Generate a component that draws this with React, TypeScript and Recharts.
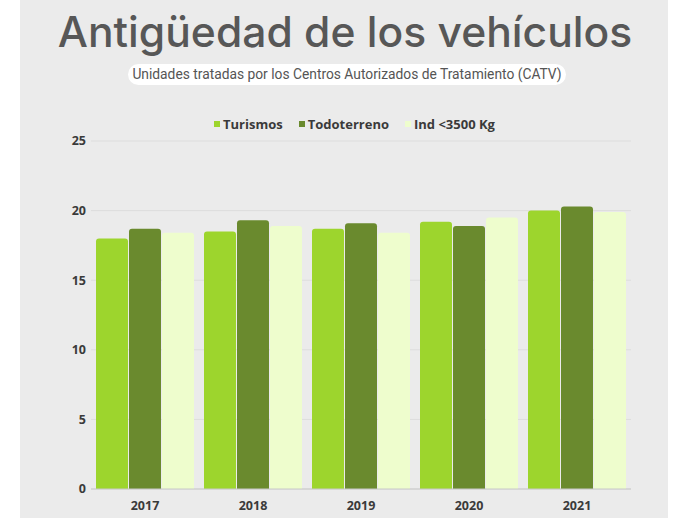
import { BarChart, Bar, XAxis, YAxis, CartesianGrid, Legend } from 'recharts';

const years = ['2017', '2018', '2019', '2020', '2021'];
const turismos = [18.0, 18.5, 18.7, 19.2, 20.0];
const todoterreno = [18.7, 19.3, 19.1, 18.9, 20.3];
const industriales = [18.4, 18.9, 18.4, 19.5, 19.9];
const yTicks = [0, 5, 10, 15, 20, 25];

const SERIES = [
  { key: 'turismos', name: 'Turismos', color: '#9dd52d' },
  { key: 'todoterreno', name: 'Todoterreno', color: '#6a8a2e' },
  { key: 'industriales', name: 'Ind <3500 Kg', color: '#eefdcd' },
];

const data = years.map((year, i) => ({
  year,
  turismos: turismos[i],
  todoterreno: todoterreno[i],
  industriales: industriales[i],
}));

const LegendContent = () => (
  <div style={{ display: 'flex', justifyContent: 'center', gap: 16, paddingLeft: 58, fontFamily: '"Open Sans"', fontWeight: 700, fontSize: 13, color: '#3a3a3a' }}>
    {SERIES.map((s) => (
      <span key={s.key} style={{ display: 'flex', alignItems: 'center' }}>
        <span style={{ width: 6, height: 6, background: s.color, marginRight: 3, display: 'inline-block' }} />
        {s.name}
      </span>
    ))}
  </div>
);

const tickStyle = { fontFamily: '"Open Sans"', fontWeight: 700, fontSize: 12.5, fill: '#3a3a3a' };

export default function App() {
  return (
    <div style={{ position: 'absolute', left: 0, top: 0, width: 690, height: 518, background: '#fff', overflow: 'hidden' }}>
      <div style={{ position: 'absolute', left: 20, top: 0, width: 648, height: 518, background: '#ebebeb' }} />
      <div style={{ position: 'absolute', left: 0, top: 2, width: 690, textAlign: 'center', fontFamily: 'Inter', fontWeight: 500, fontSize: 42.6, color: '#575757', lineHeight: '60px' }}>
        Antigüedad de los vehículos
      </div>
      <div style={{ position: 'absolute', left: 128, top: 64, width: 438, height: 21, borderRadius: 11, background: '#fff', textAlign: 'center', fontFamily: 'Roboto', fontSize: 13.8, color: '#555', lineHeight: '21px' }}>
        Unidades tratadas por los Centros Autorizados de Tratamiento (CATV)
      </div>
      <div style={{ position: 'absolute', left: 0, top: 0 }}>
        <BarChart width={690} height={518} data={data} margin={{ top: 123, right: 59, bottom: 0, left: 20 }} barCategoryGap={5} barGap={1}>
          <CartesianGrid vertical={false} stroke="#dddddd" />
          <Legend verticalAlign="top" content={<LegendContent />} wrapperStyle={{ top: 115 }} />
          <XAxis dataKey="year" axisLine={{ stroke: '#c8c8c8' }} tickLine={false} tick={tickStyle} height={29} tickMargin={6} />
          <YAxis domain={[0, 25]} ticks={yTicks} axisLine={false} tickLine={false} tick={tickStyle} width={71} tickSize={0} tickMargin={5} />
          {SERIES.map((s) => (
            <Bar key={s.key} dataKey={s.key} name={s.name} fill={s.color} radius={[3, 3, 0, 0]} isAnimationActive={false} />
          ))}
        </BarChart>
      </div>
    </div>
  );
}
